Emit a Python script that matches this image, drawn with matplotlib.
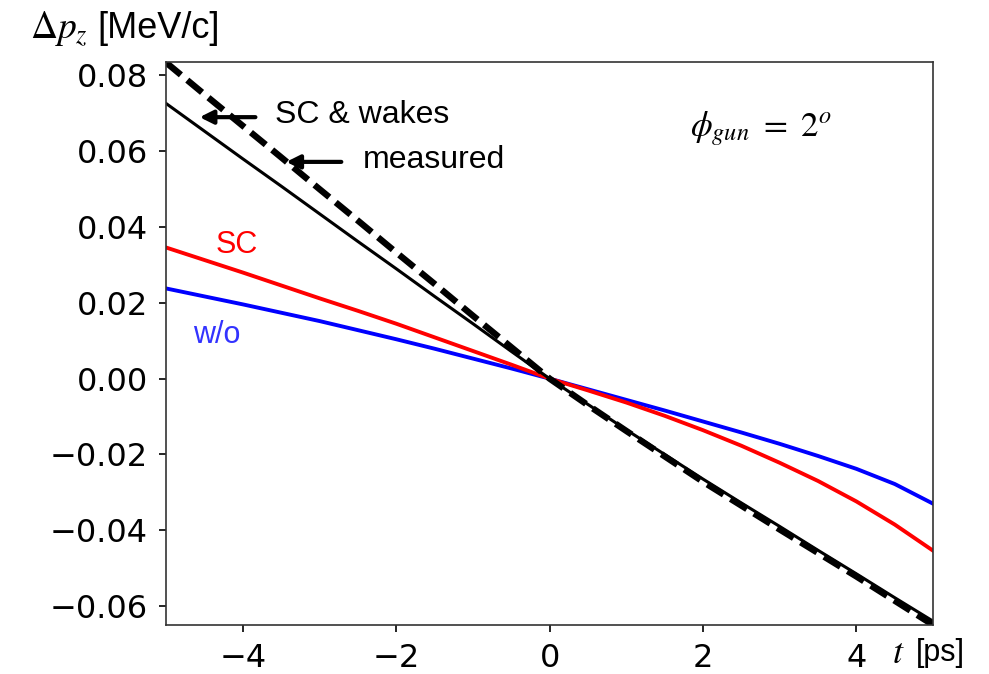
import numpy as np
import matplotlib.pyplot as plt

# time axis [ps]
t = [-5, -4.5, -4, -3.5, -3, -2.5, -2, -1.5, -1, -0.5, 0,
     0.5, 1, 1.5, 2, 2.5, 3, 3.5, 4, 4.5, 5]

# longitudinal momentum deviation [MeV/c]
dpz_wakes = [0.0726, 0.0653, 0.0580, 0.0508, 0.0435, 0.0362, 0.0290, 0.0217, 0.0145, 0.0072, 0.0,
             -0.0068, -0.0135, -0.0200, -0.0265, -0.0328, -0.0390, -0.0453, -0.0515, -0.0578, -0.064]
dpz_measured = [0.0834, 0.0750, 0.0667, 0.0584, 0.0500, 0.0417, 0.0333, 0.0250, 0.0166, 0.0083, 0.0,
                -0.0070, -0.0138, -0.0205, -0.0272, -0.0335, -0.0398, -0.0460, -0.0522, -0.0586, -0.065]
dpz_sc = [0.0346, 0.0313, 0.0280, 0.0246, 0.0212, 0.0179, 0.0145, 0.0109, 0.0073, 0.0037, 0.0,
          -0.0031, -0.0063, -0.0098, -0.0136, -0.0177, -0.0222, -0.0270, -0.0324, -0.0385, -0.0454]
dpz_wo = [0.0238, 0.0217, 0.0196, 0.0174, 0.0152, 0.0128, 0.0104, 0.0079, 0.0053, 0.0027, 0.0,
          -0.0028, -0.0056, -0.0084, -0.0113, -0.0142, -0.0172, -0.0204, -0.0238, -0.0278, -0.033]

yticks = [-0.06, -0.04, -0.02, 0.00, 0.02, 0.04, 0.06, 0.08]
xticks = [-4, -2, 0, 2, 4]

plt.rcParams['mathtext.fontset'] = 'stix'

fig = plt.figure(figsize=(9.89, 6.74), dpi=100)
ax = fig.add_axes([0.168, 0.0727, 0.7755, 0.835])

ax.plot(t, dpz_wo, color='#0000ff', lw=2.8)
ax.plot(t, dpz_sc, color='#ff0000', lw=2.8)
ax.plot(t, dpz_wakes, color='black', lw=2.2)
ax.plot(t, dpz_measured, color='black', lw=4.6, ls=(0, (3.0, 1.3)))

ax.set_xlim(-5, 5)
ax.set_ylim(-0.065, 0.0835)
ax.set_xticks(xticks)
ax.set_yticks(yticks)
ax.set_yticklabels(['\u2212%.2f' % abs(v) if v < 0 else '%.2f' % v for v in yticks])
ax.tick_params(labelsize=23, length=5, width=1.2, pad=8)
for s in ax.spines.values():
    s.set_linewidth(1.2)
    s.set_color('#333333')

arial = 'Liberation Sans'
fig.text(0.03, 0.958, r'$\Delta p_z$', fontsize=27, va='center', ha='left')
fig.text(0.098, 0.958, '[MeV/c]', fontsize=26, va='center', ha='left', family=arial)
fig.text(0.902, 0.031, r'$t$', fontsize=26, va='center', ha='left')
fig.text(0.926, 0.031, '[ps]', fontsize=22, va='center', ha='left', family=arial)

arrow = dict(arrowstyle='-|>', color='black', lw=3, mutation_scale=20)
ax.annotate('', xy=(-4.6, 0.0690), xytext=(-3.8, 0.0690), arrowprops=arrow)
ax.text(-3.58, 0.0696, 'SC & wakes', fontsize=23, family=arial, va='center')
ax.annotate('', xy=(-3.47, 0.0572), xytext=(-2.68, 0.0572), arrowprops=arrow)
ax.text(-2.43, 0.0577, 'measured', fontsize=23, family=arial, va='center')

ax.text(-4.36, 0.0353, 'SC', fontsize=22, family=arial, color='#ff0000', va='center')
ax.text(-4.65, 0.0115, 'w/o', fontsize=22, family=arial, color='#3333ff', va='center')
ax.text(1.83, 0.0661, r'$\phi_{gun}\ =\ 2^o$', fontsize=25, va='center')

fig.savefig('out.png', dpi=100)
